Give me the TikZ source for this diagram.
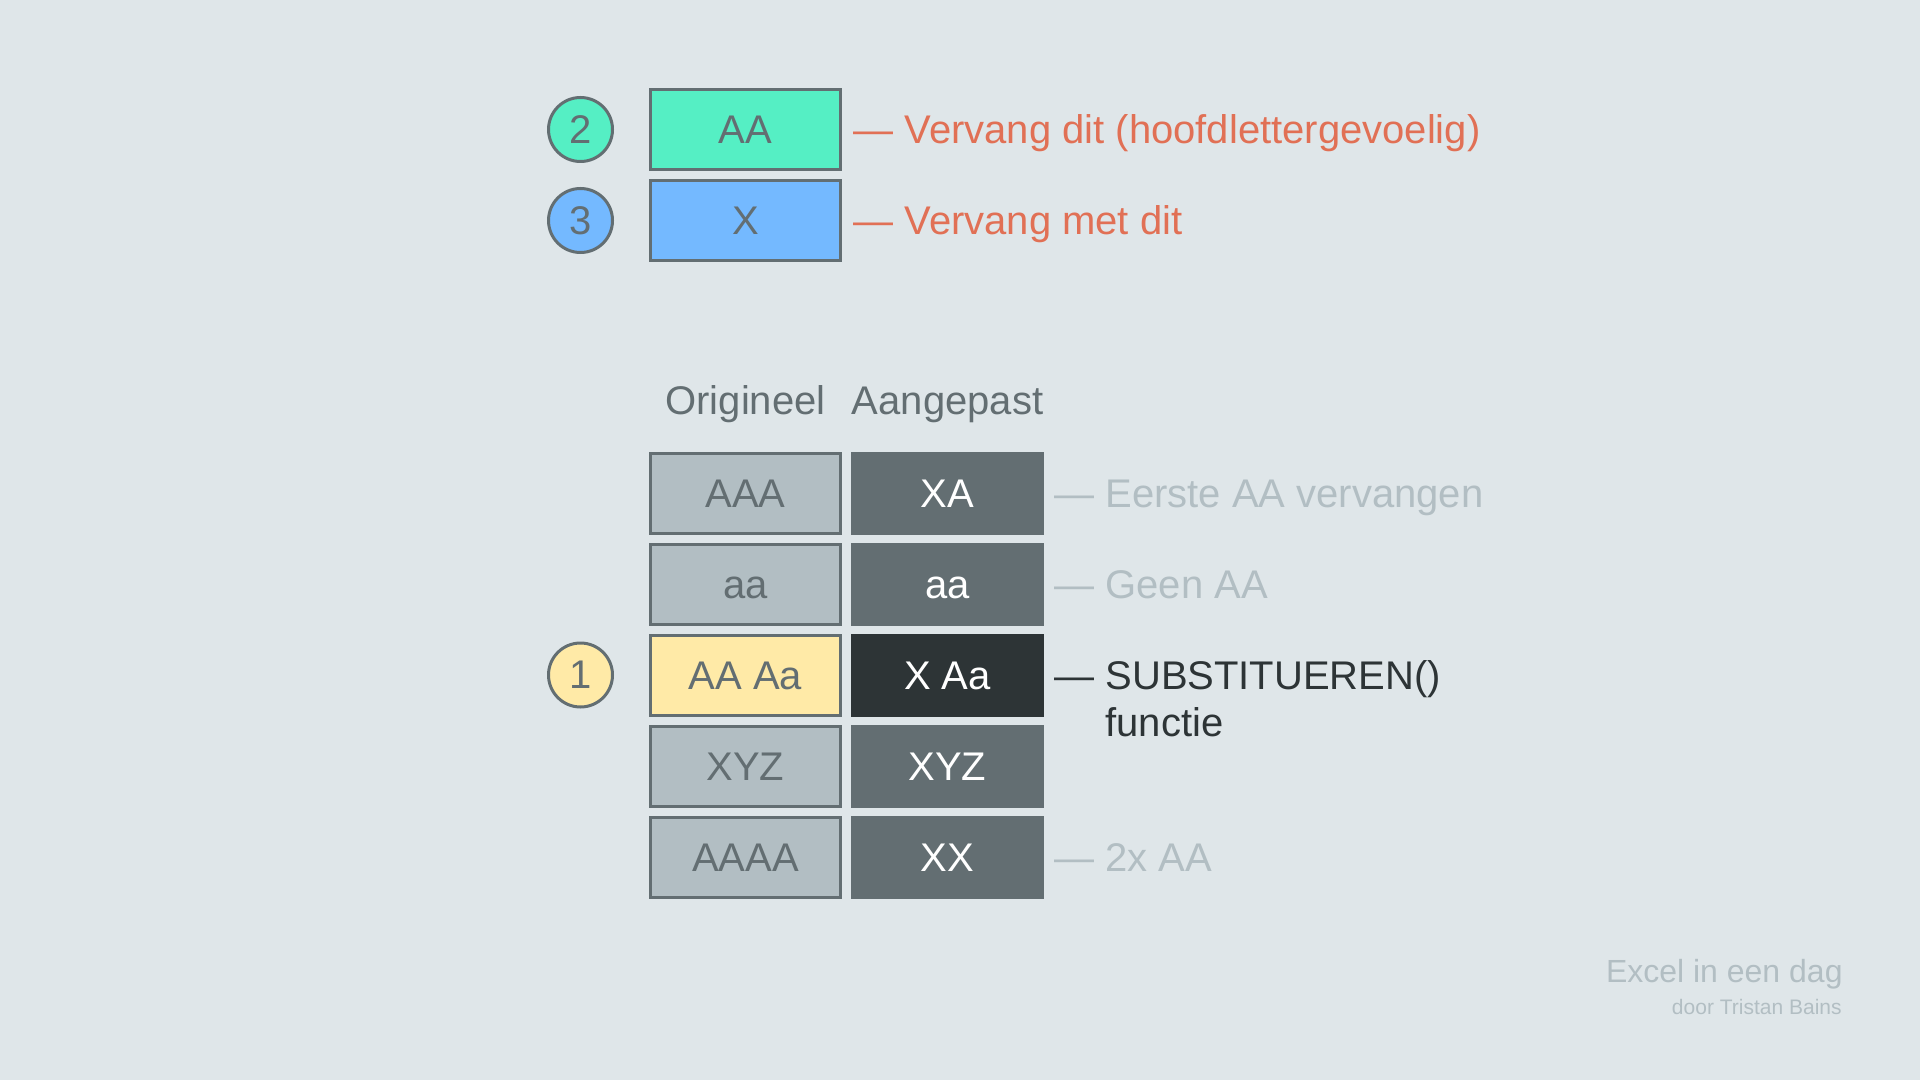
\documentclass[tikz,border=0pt]{standalone}
\usepackage{fontspec}
\setmainfont{Liberation Sans}
\usepackage{xcolor}
\usetikzlibrary{positioning}

\definecolor{bgcol}{HTML}{DFE6E9}
\definecolor{edgegray}{HTML}{636E72}
\definecolor{darkest}{HTML}{2D3436}
\definecolor{boxgray}{HTML}{B2BEC3}
\definecolor{boxgreen}{HTML}{55EFC4}
\definecolor{boxblue}{HTML}{74B9FF}
\definecolor{boxyellow}{HTML}{FFEAA7}
\definecolor{noteorange}{HTML}{E17055}

\begin{document}
\begin{tikzpicture}[
    x = 0.5pt, y = -0.5pt,
    node distance = 4pt and 4.5pt,
    font = \fontsize{20}{23.5}\selectfont]
    \tikzstyle{cell}=[draw=edgegray,line width=1.5pt,minimum width=95pt,minimum height=40pt,
      inner sep=0pt,text=edgegray,text height=14.3pt,text depth=0pt]
    \tikzstyle{result}=[cell,fill=edgegray,text=white]
    \tikzstyle{badge}=[circle,draw=edgegray,line width=1.5pt,minimum size=32pt,inner sep=0pt,text=edgegray]
    \tikzstyle{note}=[anchor=base west,inner sep=0pt]
    \tikzstyle{head}=[anchor=base,inner sep=0pt,text=edgegray]
    % background and size
    \fill[bgcol] (0,0) rectangle (1920,1080);
    % replace / with
    \node[cell,fill=boxgreen] (b2) at (745.5,129.5) {AA};
    \node[cell,fill=boxblue,below=of b2] (b3) {X};
    \node[badge,fill=boxgreen,left=17.5pt of b2] (c2) {2};
    \node[badge,fill=boxblue,left=17.5pt of b3] (c3) {3};
    \node[note,text=noteorange] (n2) at ([xshift=5.5pt,yshift=-7.15pt]b2.east) {— Vervang dit (hoofdlettergevoelig)};
    \node[note,text=noteorange] (n3) at ([xshift=5.5pt,yshift=-7.15pt]b3.east) {— Vervang met dit};
    % table
    \node[cell,fill=boxgray] (o1) at (745.5,493) {AAA};
    \node[cell,fill=boxgray,below=of o1] (o2) {aa};
    \node[cell,fill=boxyellow,below=of o2] (o3) {AA Aa};
    \node[cell,fill=boxgray,below=of o3] (o4) {XYZ};
    \node[cell,fill=boxgray,below=of o4] (o5) {AAAA};
    \node[result,right=of o1] (a1) {XA};
    \node[result,right=of o2] (a2) {aa};
    \node[result,draw=darkest,fill=darkest,right=of o3] (a3) {X Aa};
    \node[result,right=of o4] (a4) {XYZ};
    \node[result,right=of o5] (a5) {XX};
    \node[head] (h1) at ([yshift=18.5pt]o1.north) {Origineel};
    \node[head] (h2) at ([yshift=18.5pt]a1.north) {Aangepast};
    \node[badge,fill=boxyellow,left=17.5pt of o3] (c1) {1};
    % notes on the rows
    \node[note,text=boxgray] (m1) at ([xshift=5pt,yshift=-7.15pt]a1.east) {— Eerste AA vervangen};
    \node[note,text=boxgray] (m2) at ([xshift=5pt,yshift=-7.15pt]a2.east) {— Geen AA};
    \node[note,text=darkest] (m3) at ([xshift=5pt,yshift=-7.15pt]a3.east)
      {— \begin{tabular}[t]{@{}l@{}}SUBSTITUEREN()\\functie\end{tabular}};
    \node[note,text=boxgray] (m5) at ([xshift=5pt,yshift=-7.15pt]a5.east) {— 2x AA};
    % credits
    \node[anchor=base east,inner sep=0pt,text=boxgray,font=\fontsize{16}{19}\selectfont] (brand) at (1843,982) {Excel in een dag};
    \node[anchor=base east,inner sep=0pt,text=boxgray,font=\fontsize{10.5}{12}\selectfont] (author) at (1842,1014) {door Tristan Bains};
\end{tikzpicture}
\end{document}
